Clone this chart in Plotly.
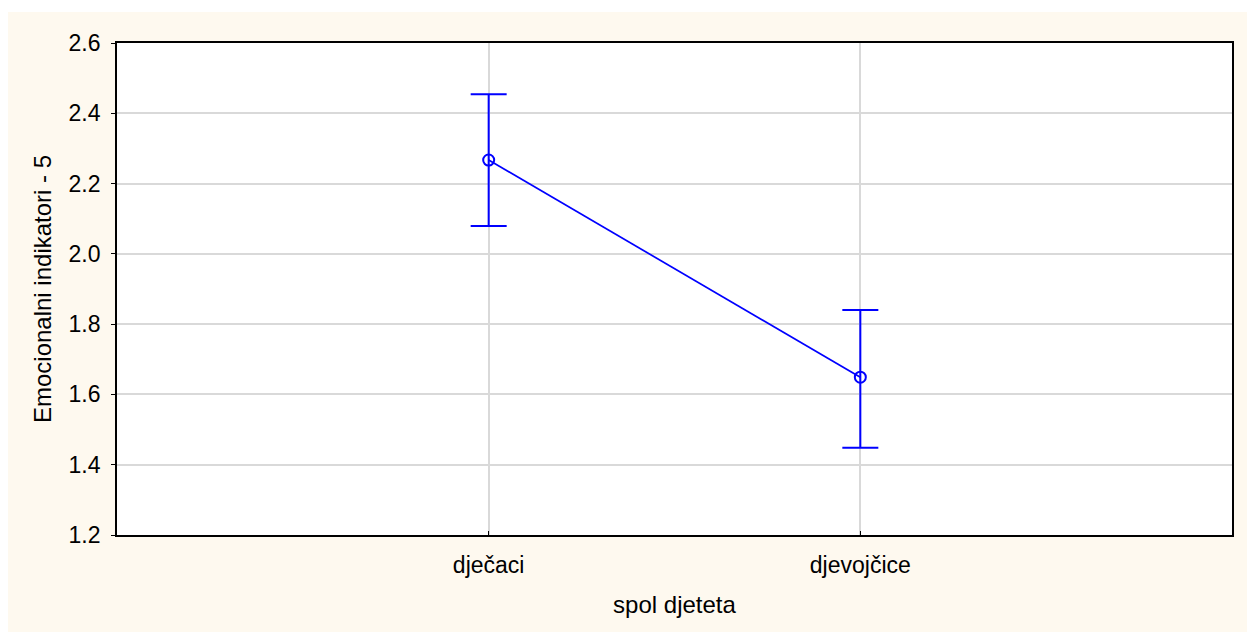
import plotly.graph_objects as go

categories = ["dječaci", "djevojčice"]
means = [2.267, 1.649]
upper = [2.454, 1.840]
lower = [2.079, 1.448]
y_ticks = [1.2, 1.4, 1.6, 1.8, 2.0, 2.2, 2.4, 2.6]
x_title = "spol djeteta"
y_title = "Emocionalni indikatori - 5"

err_plus = [u - m for u, m in zip(upper, means)]
err_minus = [m - l for m, l in zip(means, lower)]

BLUE = "#0000FF"
CREAM = "#FEF9EF"
FONT = "Liberation Sans, Arial, sans-serif"

# the page has an 8px body margin; figure coordinates = page - 8
W, H = 1247, 624
L, R, T, B = 109, 23, 35, 97
pw, ph = W - L - R, H - T - B

fig = go.Figure()
fig.add_trace(go.Scatter(
    x=categories, y=means, mode="lines+markers",
    line=dict(color=BLUE, width=1.7),
    marker=dict(symbol="circle-open", size=11, color=BLUE, line=dict(width=2, color=BLUE)),
    error_y=dict(type="data", symmetric=False, array=err_plus, arrayminus=err_minus,
                 color=BLUE, thickness=2, width=18),
    showlegend=False, hoverinfo="skip",
))

# cream panel and white plot area
fig.add_shape(type="rect", xref="paper", yref="paper",
              x0=-L / pw, x1=(W - L) / pw + 0.01,
              y0=-(B + 5) / ph, y1=(ph + T - 4) / ph,
              fillcolor=CREAM, line=dict(width=0), layer="below")
fig.add_shape(type="rect", xref="paper", yref="paper", x0=0, x1=1, y0=0, y1=1,
              fillcolor="white", line=dict(width=0), layer="below")

axis_common = dict(showline=True, linecolor="black", linewidth=1.8, mirror=True,
                   gridcolor="#D9D9D9", gridwidth=1.7, zeroline=False,
                   tickfont=dict(family=FONT, size=23, color="black"),
                   ticklen=4, tickwidth=1.2, tickcolor="black")

fig.update_xaxes(type="category", range=[-1, 2], ticks="inside",
                 title=dict(text=x_title, font=dict(family=FONT, size=24, color="black"), standoff=20),
                 ticklabelstandoff=8,
                 **axis_common)
fig.update_yaxes(range=[1.2, 2.6], tickvals=y_ticks, tickformat=".1f", ticks="outside",
                 title=dict(text=y_title, font=dict(family=FONT, size=24, color="black"), standoff=10),
                 ticklabelstandoff=6,
                 **axis_common)

fig.update_layout(
    width=W, height=H,
    margin=dict(l=L, r=R, t=T, b=B, autoexpand=False),
    paper_bgcolor="white", plot_bgcolor="rgba(0,0,0,0)",
    font=dict(family=FONT, color="black"),
)

fig.write_html("out.html")
